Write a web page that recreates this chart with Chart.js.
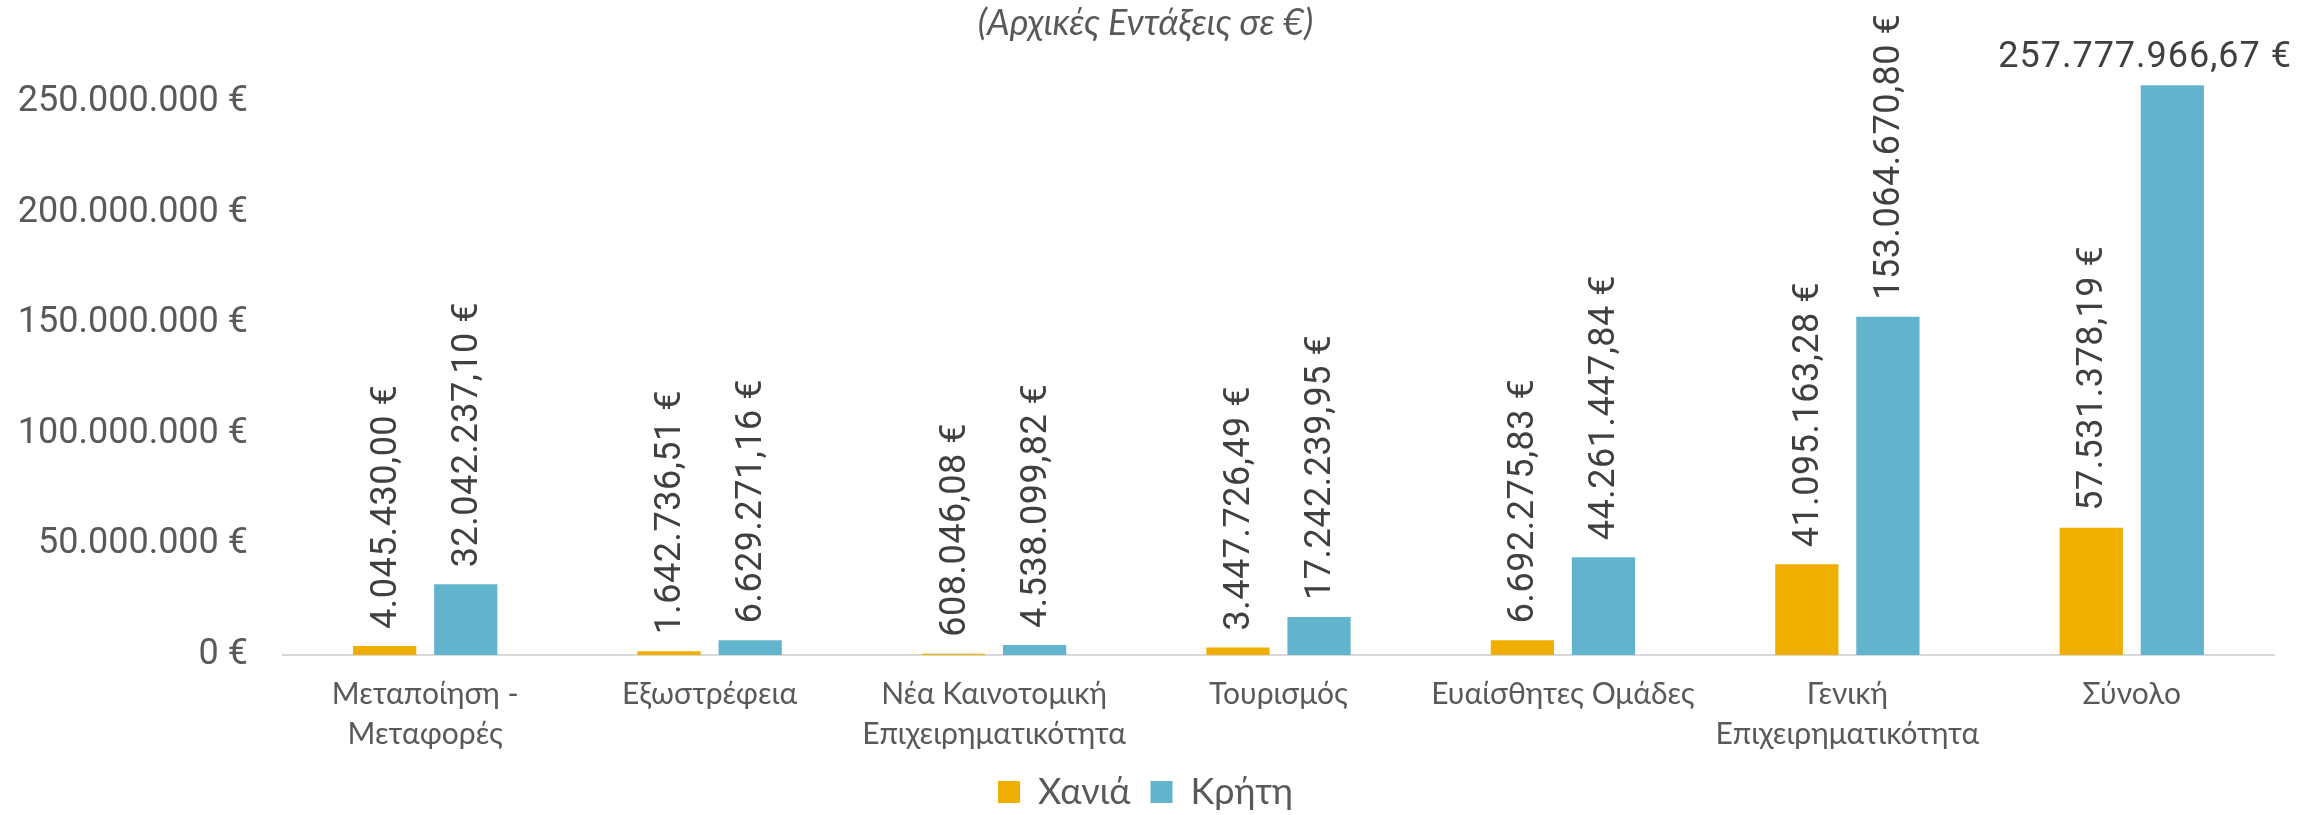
<!DOCTYPE html>
<html>
<head>
<meta charset="utf-8">
<script src="https://cdn.jsdelivr.net/npm/chart.js@4"></script>
<style>
  html, body { margin: 0; padding: 0; background: #fff; }
  #wrap { width: 2298px; height: 815px; }
</style>
</head>
<body>
<div id="wrap"><canvas id="dash"></canvas></div>
<script>
const categories = [
  ['Μεταποίηση -', 'Μεταφορές'],
  'Εξωστρέφεια',
  ['Νέα Καινοτομική', 'Επιχειρηματικότητα'],
  'Τουρισμός',
  'Ευαίσθητες Ομάδες',
  ['Γενική', 'Επιχειρηματικότητα'],
  'Σύνολο'
];
const chania = [4045430.00, 1642736.51, 608046.08, 3447726.49, 6692275.83, 41095163.28, 57531378.19];
const kriti = [32042237.10, 6629271.16, 4538099.82, 17242239.95, 44261447.84, 153064670.80, 257777966.67];
const yTicks = [0, 50000000, 100000000, 150000000, 200000000, 250000000];

// 1234567.8 -> "1.234.567,80 €"
function euro(v, dec) {
  let s = v.toFixed(dec);
  let parts = s.split('.');
  let ip = parts[0].replace(/\B(?=(\d{3})+(?!\d))/g, '.');
  return (parts[1] ? ip + ',' + parts[1] : ip) + ' €';
}

// etiketes timwn panw apo tis mpares
const valueLabels = {
  id: 'valueLabels',
  afterDatasetsDraw(chart) {
    const ctx = chart.ctx;
    ctx.save();
    ctx.font = '36px Roboto';
    ctx.letterSpacing = '0.5px';
    ctx.fillStyle = '#404040';
    chart.data.datasets.forEach((ds, i) => {
      chart.getDatasetMeta(i).data.forEach((bar, j) => {
        const txt = euro(ds.data[j], 2);
        const w = ctx.measureText(txt).width;
        const off = 17;
        if (bar.y - off - w > -12) {
          ctx.save();
          ctx.translate(bar.x, bar.y - off);
          ctx.rotate(-Math.PI / 2);
          ctx.textAlign = 'left';
          ctx.textBaseline = 'middle';
          ctx.fillText(txt, 0, 2);
          ctx.restore();
        } else {
          ctx.letterSpacing = '1px';
          const w2 = ctx.measureText(txt).width;
          let x = Math.min(bar.x, chart.width - 6 - w2 / 2);
          ctx.textAlign = 'center';
          ctx.textBaseline = 'alphabetic';
          ctx.fillText(txt, x, bar.y - off - 1);
          ctx.letterSpacing = '0.5px';
        }
      });
    });
    ctx.restore();
  }
};

new Chart(document.getElementById('dash'), {
  type: 'bar',
  data: {
    labels: categories,
    datasets: [
      { label: 'Χανιά', data: chania, backgroundColor: '#F0AE00' },
      { label: 'Κρήτη', data: kriti, backgroundColor: '#62B4CC' }
    ]
  },
  options: {
    responsive: true,
    maintainAspectRatio: false,
    animation: false,
    layout: { padding: { left: 17, right: 24, top: 0, bottom: 0 } },
    datasets: { bar: { categoryPercentage: 0.57, barPercentage: 0.78 } },
    scales: {
      x: {
        grid: { display: false, drawTicks: false },
        border: { display: true, color: '#D9D9D9', width: 2 },
        afterFit(scale) {
          scale.height = 99;
        },
        ticks: {
          color: '#595959',
          font: { family: 'Lato', size: 30, lineHeight: 1.32 },
          padding: 20,
          maxRotation: 0,
          autoSkip: false
        }
      },
      y: {
        min: 0,
        max: 270000000,
        grid: { display: false, drawTicks: false },
        border: { display: false },
        afterBuildTicks(scale) {
          scale.ticks = yTicks.map(v => ({ value: v }));
        },
        afterFit(scale) {
          scale.width = 266;
        },
        ticks: {
          color: '#595959',
          font: { family: 'Roboto', size: 36 },
          padding: 35,
          callback: v => euro(v, 0)
        }
      }
    },
    plugins: {
      title: {
        display: true,
        text: '(Αρχικές Εντάξεις σε €)',
        color: '#595959',
        font: { family: 'Lato', size: 36, style: 'italic', weight: 'normal' },
        padding: { top: 2, bottom: 13 }
      },
      legend: {
        position: 'bottom',
        maxHeight: 61,
        labels: {
          boxWidth: 22,
          boxHeight: 22,
          color: '#595959',
          font: { family: 'Lato', size: 36 },
          padding: 20
        }
      },
      tooltip: { enabled: false }
    }
  },
  plugins: [valueLabels]
});
</script>
</body>
</html>
